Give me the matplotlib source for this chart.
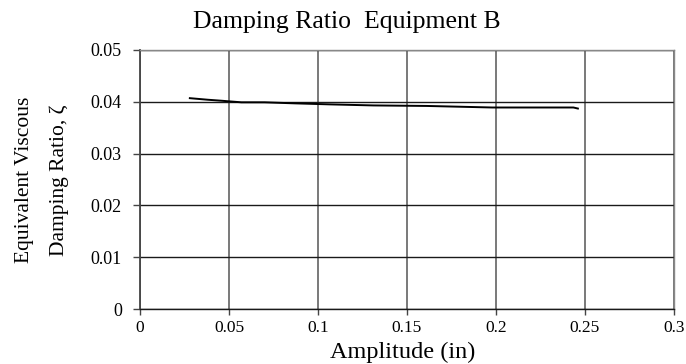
import matplotlib
matplotlib.use("Agg")
import matplotlib.pyplot as plt

amplitude = [0.028, 0.038, 0.046, 0.057, 0.070, 0.087, 0.107, 0.131, 0.161, 0.198, 0.2435, 0.246]
zeta = [0.0407, 0.0404, 0.0402, 0.0399, 0.0399, 0.0397, 0.0395, 0.0393, 0.0392, 0.0389, 0.0389, 0.0387]
xticks = [0, 0.05, 0.1, 0.15, 0.2, 0.25, 0.3]
xticklabels = ["0", "0.05", "0.1", "0.15", "0.2", "0.25", "0.3"]
yticks = [0, 0.01, 0.02, 0.03, 0.04, 0.05]
yticklabels = ["0", "0.01", "0.02", "0.03", "0.04", "0.05"]

plt.rcParams['font.family'] = ['Liberation Serif', 'DejaVu Serif']

W, H = 686, 364
fig = plt.figure(figsize=(W / 100, H / 100), dpi=100)
ax = fig.add_axes([140 / W, (H - 309) / H, 534 / W, 259 / H])
ax.plot(amplitude, zeta, color='black', lw=1.4, zorder=3)
ax.set_xlim(0, 0.3)
ax.set_ylim(0, 0.05)
ax.set_xticks(xticks)
ax.set_xticklabels(xticklabels, fontsize=12.5)
ax.set_yticks(yticks)
ax.set_yticklabels(yticklabels, fontsize=13)
ax.yaxis.grid(True, color='#1a1a1a', lw=1.0)
ax.xaxis.grid(True, color='#555555', lw=1.1)
ax.set_axisbelow(True)
for s in ax.spines.values():
    s.set_color('#888888')
    s.set_linewidth(1.0)
ax.spines['left'].set_color('#444444')
ax.spines['left'].set_linewidth(1.3)
ax.spines['bottom'].set_color('#1a1a1a')
ax.tick_params(axis='both', direction='out', length=5, width=1, color='#444444')
ax.tick_params(axis='x', length=4, pad=4)
ax.tick_params(axis='y', pad=8)

fig.text(403 / W, 1 - 358 / H, 'Amplitude (in)', ha='center', va='baseline', fontsize=17.5)
fig.text(25 / W, 1 - 180 / H, 'Equivalent Viscous', rotation=90, ha='center', va='center', fontsize=15.5)
fig.text(59 / W, 1 - 180 / H, 'Damping Ratio, ζ', rotation=90, ha='center', va='center', fontsize=15.5)
fig.text(347 / W, 1 - 28 / H, 'Damping Ratio  Equipment B', ha='center', va='baseline', fontsize=18.5)
fig.savefig('out.png', dpi=100)
